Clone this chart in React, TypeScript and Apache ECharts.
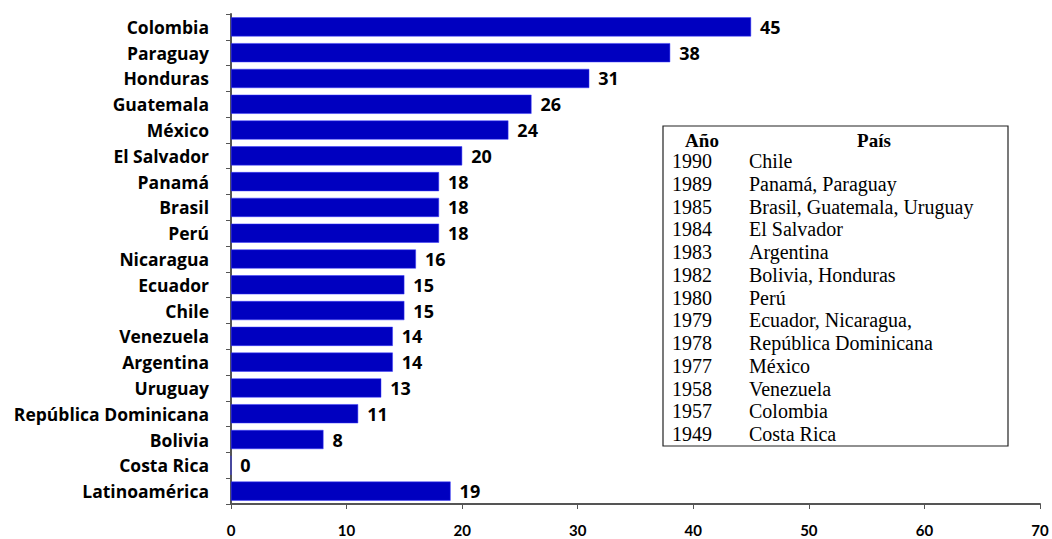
import React, { useEffect, useRef } from "react";
import * as echarts from "echarts";

const countries = [
  "Colombia", "Paraguay", "Honduras", "Guatemala", "México", "El Salvador",
  "Panamá", "Brasil", "Perú", "Nicaragua", "Ecuador", "Chile", "Venezuela",
  "Argentina", "Uruguay", "República Dominicana", "Bolivia", "Costa Rica",
  "Latinoamérica",
];
const values = [45, 38, 31, 26, 24, 20, 18, 18, 18, 16, 15, 15, 14, 14, 13, 11, 8, 0, 19];

const tableYears = ["1990", "1989", "1985", "1984", "1983", "1982", "1980", "1979", "1978", "1977", "1958", "1957", "1949"];
const tableCountries = [
  "Chile", "Panamá, Paraguay", "Brasil, Guatemala, Uruguay", "El Salvador",
  "Argentina", "Bolivia, Honduras", "Perú", "Ecuador, Nicaragua,",
  "República Dominicana", "México", "Venezuela", "Colombia", "Costa Rica",
];

const SANS = "'Open Sans', 'Noto Sans', sans-serif";
const NARROW = "Lato, 'Open Sans', sans-serif";
const SERIF = "'Liberation Serif', 'DejaVu Serif', serif";

export default function App() {
  const ref = useRef<HTMLDivElement>(null);

  useEffect(() => {
    if (!ref.current) return;
    const chart = echarts.init(ref.current, null, { renderer: "svg" });

    const boxX = 663, boxY = 126, boxW = 345, boxH = 320;
    const rowH = 22.75;
    const firstRowY = 161;
    const tableTexts: any[] = [
      {
        type: "text", x: 702, y: 140,
        style: { text: "Año", font: `bold 19px ${SERIF}`, fill: "#000", align: "center", verticalAlign: "middle" },
      },
      {
        type: "text", x: 874, y: 140,
        style: { text: "País", font: `bold 19px ${SERIF}`, fill: "#000", align: "center", verticalAlign: "middle" },
      },
    ];
    tableYears.forEach((y, i) => {
      tableTexts.push({
        type: "text", x: 672, y: firstRowY + i * rowH,
        style: { text: y, font: `20px ${SERIF}`, fill: "#000", verticalAlign: "middle" },
      });
      tableTexts.push({
        type: "text", x: 749, y: firstRowY + i * rowH,
        style: { text: tableCountries[i], font: `20px ${SERIF}`, fill: "#000", verticalAlign: "middle" },
      });
    });

    chart.setOption({
      animation: false,
      backgroundColor: "#fff",
      grid: { left: 231, right: 12, top: 14, bottom: 35, containLabel: false },
      xAxis: {
        type: "value", min: 0, max: 70, interval: 10,
        axisLine: { show: true, lineStyle: { color: "#555", width: 2 } },
        axisTick: { show: true, length: 5, lineStyle: { color: "#555" } },
        axisLabel: { margin: 18, color: "#000", fontWeight: "bold", fontSize: 15, fontFamily: NARROW },
        splitLine: { show: false },
      },
      yAxis: {
        type: "category", data: countries, inverse: true,
        axisLine: { show: true, lineStyle: { color: "#555", width: 2 } },
        axisTick: { show: true, length: 5, lineStyle: { color: "#555" } },
        axisLabel: { margin: 22, color: "#000", fontWeight: "bold", fontSize: 17.5, fontFamily: SANS },
      },
      series: [
        {
          type: "bar", data: values, barCategoryGap: "26%",
          itemStyle: { color: "#0000C0", borderColor: "#3a3aff", borderWidth: 0.5 },
          label: {
            show: true, position: "right", distance: 9,
            color: "#000", fontWeight: "bold", fontSize: 18, fontFamily: SANS,
          },
        },
      ],
      graphic: [
        {
          type: "rect", shape: { x: boxX, y: boxY, width: boxW, height: boxH },
          style: { fill: "#fff", stroke: "#222", lineWidth: 1.2 }, z: 10,
        },
        ...tableTexts.map((t) => ({ ...t, z: 11 })),
      ],
    });

    return () => chart.dispose();
  }, []);

  return <div ref={ref} style={{ width: 1052, height: 539, position: "absolute", left: 0, top: 0 }} />;
}
